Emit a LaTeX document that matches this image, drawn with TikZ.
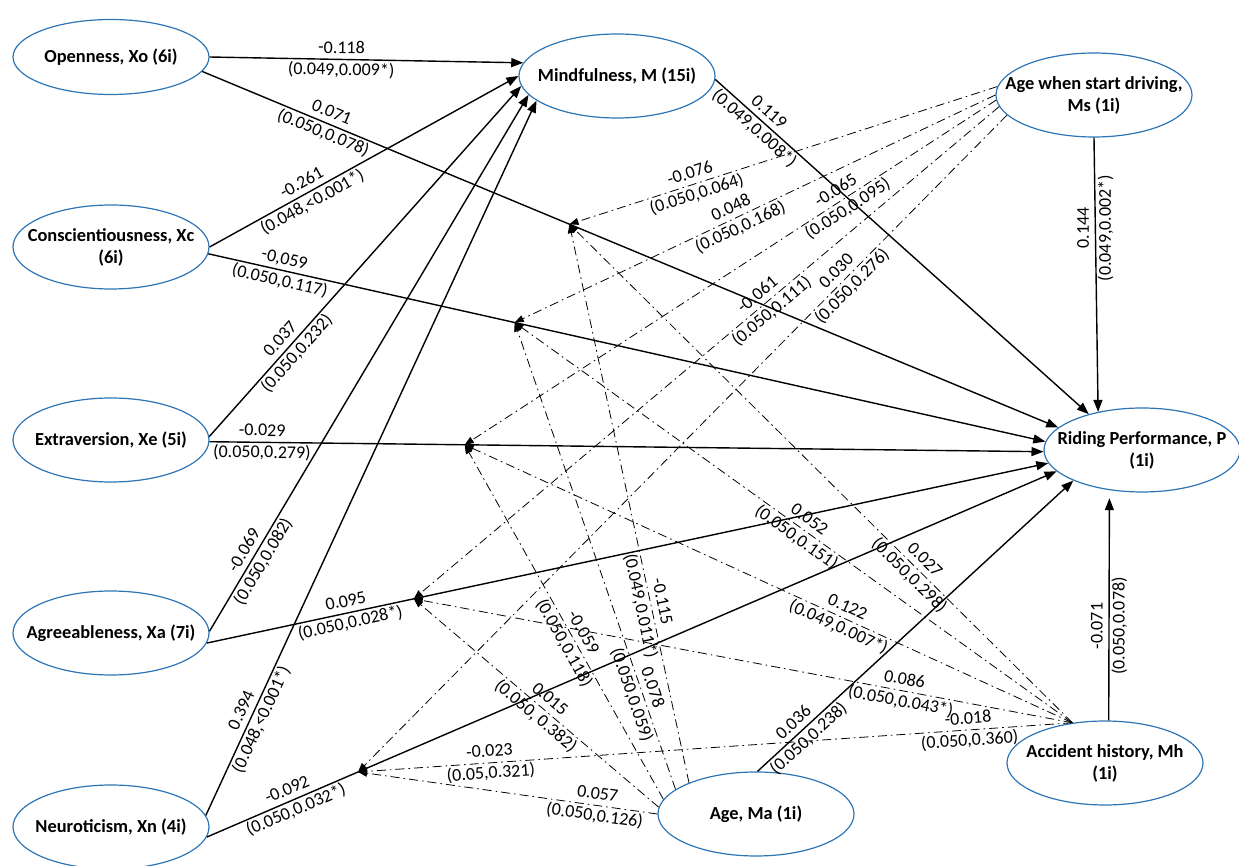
\documentclass[tikz,border=0pt]{standalone}
\usepackage{fontspec}
\setmainfont{Carlito}
\usetikzlibrary{shapes.geometric,arrows.meta,calc}
\definecolor{ellblue}{RGB}{46,117,182}
\tikzset{
  construct/.style={draw=ellblue, line width=0.6pt, ellipse, minimum width=98pt, minimum height=42pt, inner xsep=-16pt, inner ysep=0pt, align=center, font=\fontsize{9.2}{11}\selectfont\bfseries},
  effect/.style={line width=0.7pt, -{Triangle[length=6pt,width=4.5pt]}},
  moder/.style={line width=0.4pt, dash pattern=on 4.5pt off 2pt on 0.8pt off 2pt, -{Triangle[length=4.5pt,width=3.5pt]}},
  coef/.style={sloped, align=center, inner sep=0.5pt, font=\fontsize{9}{11}\selectfont},
  vcoef/.style={rotate=90, align=center, inner sep=0.5pt, font=\fontsize{9}{11}\selectfont},
}
\begin{document}
\begin{tikzpicture}[x=0.5pt,y=-0.5pt]
\useasboundingbox (0,0) rectangle (1239,866);

\node[construct, minimum height=37.5pt] (Xo) at (111,57) {Openness, Xo (6i)};
\node[construct] (Xc) at (111,247) {Conscientiousness, Xc\\(6i)};
\node[construct] (Xe) at (111,440) {Extraversion, Xe (5i)};
\node[construct] (Xa) at (111,633) {Agreeableness, Xa (7i)};
\node[construct] (Xn) at (111,827) {Neuroticism, Xn (4i)};
\node[construct] (M) at (617,76) {Mindfulness, M (15i)};
\node[construct] (Ms) at (1094,95) {Age when start driving,\\Ms (1i)};
\node[construct] (P) at (1142,450) {Riding Performance, P\\(1i)};
\node[construct] (Ma) at (756,814) {Age, Ma (1i)};
\node[construct] (Mh) at (1105,763) {Accident history, Mh\\(1i)};

\coordinate (iXo) at ($(Xo.-9)!0.429!(P.165)$);
\coordinate (iXc) at ($(Xc.-4)!0.366!(P.175)$);
\coordinate (iXe) at ($(Xe.-1)!0.306!(P.181)$);
\coordinate (iXa) at ($(Xa.-6)!0.246!(P.188)$);
\coordinate (iXn) at ($(Xn.-6)!0.178!(P.194)$);

\draw[effect] (Xo.0) -- node[coef, pos=0.42] {-0.118\\(0.049,0.009*)} (M.172);
\draw[effect] (Xc.0) -- node[coef, pos=0.316] {-0.261\\(0.048,<0.001*)} (M.180);
\draw[effect] (Xe.2) -- node[coef, pos=0.256] {0.037\\(0.050,0.232)} (M.186);
\draw[effect] (Xa.1) -- node[coef, pos=0.14] {-0.069\\(0.050,0.082)} (M.192);
\draw[effect] (Xn.7) -- node[coef, pos=0.14] {0.394\\(0.048,<0.001*)} (M.197);

\draw[effect] (Xo.-9) -- node[coef, pos=0.146] {0.071\\(0.050,0.078)} (P.165);
\draw[effect] (Xc.-4) -- node[coef, pos=0.088] {-0,059\\(0.050,0.117)} (P.175);
\draw[effect] (Xe.-1) -- node[coef, pos=0.063] {-0.029\\(0.050,0.279)} (P.181);
\draw[effect] (Xa.-6) -- node[coef, pos=0.168] {0.095\\(0.050,0.028*)} (P.188);
\draw[effect] (Xn.-6) -- node[coef, pos=0.10] {-0.092\\(0.050,0.032*)} (P.194);

\draw[effect] (M.-2) -- node[coef, pos=0.123] {0.119\\(0.049,0.008*)} (P.146);
\draw[effect] (Ms.south) -- node[vcoef, pos=0.33] {0.144\\(0.049,0.002*)} (P.139);
\draw[effect] (Ma.88) -- node[coef, pos=0.139] {0.036\\(0.050,0.238)} (P.204);
\draw[effect, shorten >=4pt] (Mh.85) -- node[vcoef, pos=0.41] {-0.071\\(0.050,0.078)} (P.231);

\draw[moder] (Ms.175) -- node[coef, pos=0.71] {-0.076\\(0.050,0.064)} (iXo);
\draw[moder] (Ms.180) -- node[coef, pos=0.54] {0.048\\(0.050,0.168)} (iXc);
\draw[moder] (Ms.183) -- node[coef, pos=0.29] {-0.065\\(0.050,0.095)} (iXe);
\draw[moder] (Ms.187) -- node[coef, pos=0.40] {-0.061\\(0.050,0.111)} (iXa);
\draw[moder] (Ms.193) -- node[coef, pos=0.25] {0.030\\(0.050,0.276)} (iXn);

\draw[moder] (Ma.155) -- node[coef, pos=0.32] {-0.115\\(0.049,0.011*)} (iXo);
\draw[moder] (Ma.163) -- node[coef, pos=0.21] {0.078\\(0.050,0.059)} (iXc);
\draw[moder] (Ma.171) -- node[coef, pos=0.455] {-0.059\\(0.050,0.118)} (iXe);
\draw[moder] (Ma.176) -- node[coef, pos=0.475] {0.015\\(0.050, 0.382)} (iXa);
\draw[moder] (Ma.180) -- node[coef, pos=0.205] {0.057\\(0.050,0.126)} (iXn);

\draw[moder] (Mh.129) -- node[coef, pos=0.31] {0.027\\(0.050,0.298)} (iXo);
\draw[moder] (Mh.129) -- node[coef, pos=0.484] {0.052\\(0.050,0.151)} (iXc);
\draw[moder] (Mh.129) -- node[coef, pos=0.378] {0.122\\(0.049,0.007*)} (iXe);
\draw[moder] (Mh.129) -- node[coef, pos=0.258] {0.086\\(0.050,0.043*)} (iXa);
\draw[moder] (Mh.129) -- node[coef, pos=0.145] {-0.018\\(0.050,0.360)} node[coef, pos=0.815] {-0.023\\(0.05,0.321)} (iXn);
\end{tikzpicture}
\end{document}
